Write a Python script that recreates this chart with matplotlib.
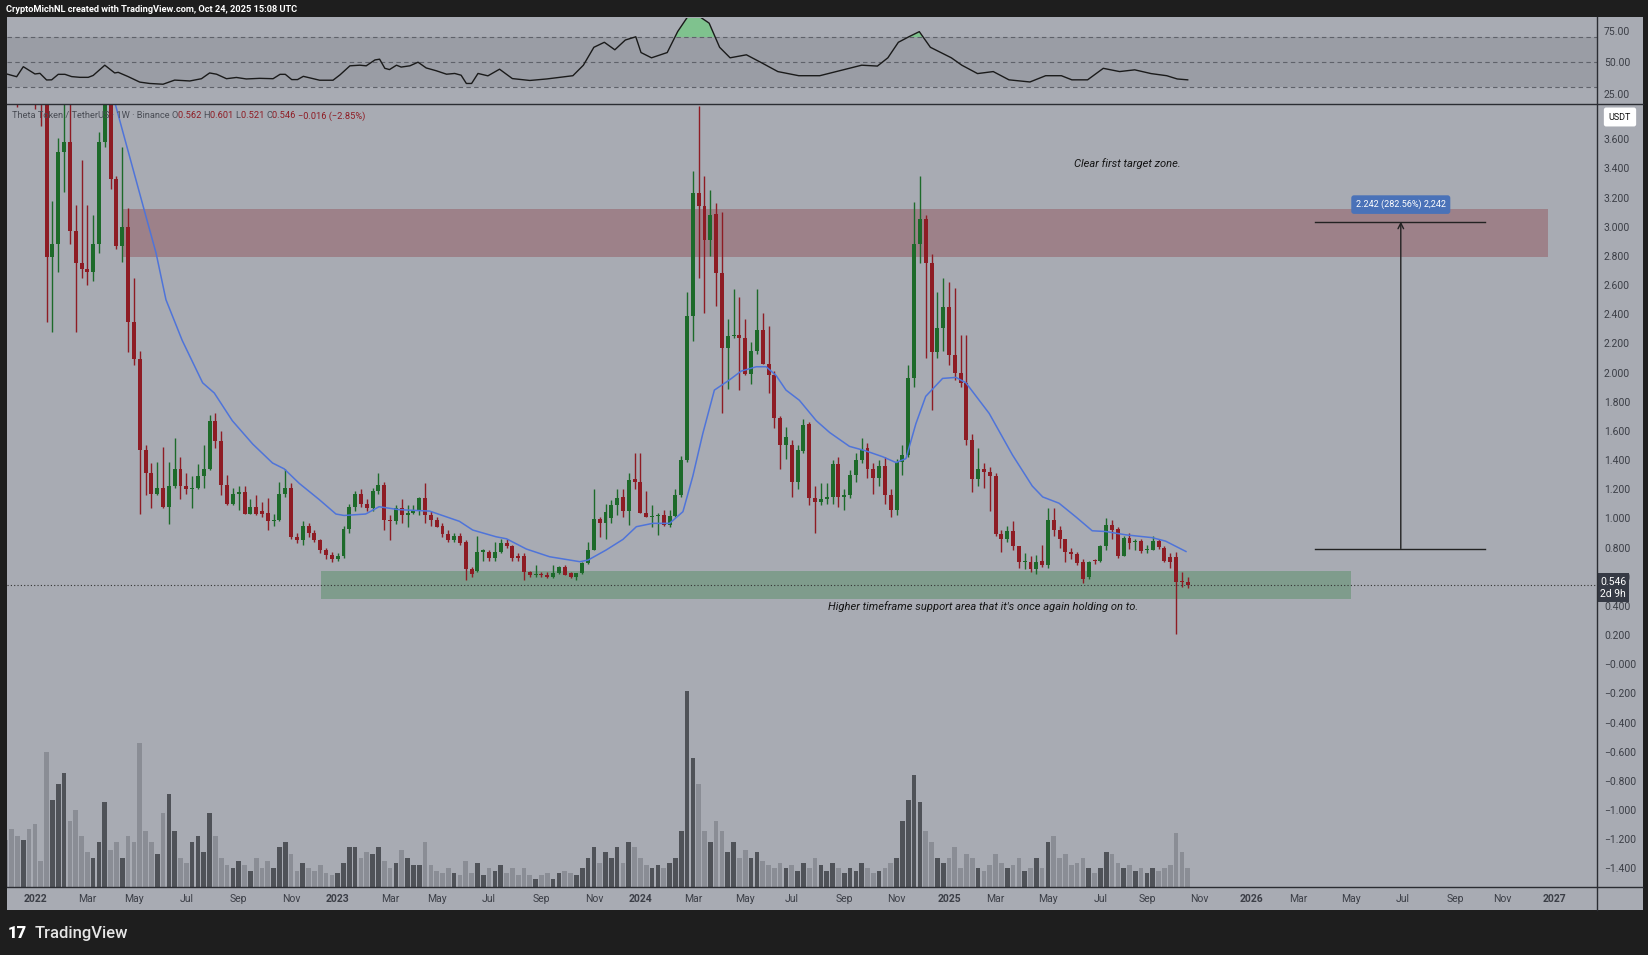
import numpy as np
import pandas as pd
import matplotlib
matplotlib.use("Agg")
import matplotlib.pyplot as plt
from matplotlib.patches import Rectangle
from matplotlib.lines import Line2D
import matplotlib.transforms as mtransforms

plt.rcParams['font.family'] = ['Roboto', 'DejaVu Sans']

# weekly THETA/USDT candles, index 0 = week of Mon 3 Jan 2022
first_week = -5
opens = [5.30, 4.80, 4.30, 4.10, 4.60, 4.30, 4.00, 3.95, 2.79, 2.88, 3.51, 3.58, 2.97, 2.75, 2.71, 2.69,
         2.88, 3.58, 4.05, 3.33, 2.87, 3.00, 2.35, 2.09, 1.47, 1.31, 1.17, 1.21, 1.08, 1.22, 1.34, 1.22,
         1.20, 1.21, 1.29, 1.34, 1.67, 1.53, 1.23, 1.10, 1.17, 1.18, 1.03, 1.08, 1.05, 1.04, 0.98, 0.99,
         1.17, 1.21, 0.87, 0.85, 0.95, 0.90, 0.85, 0.78, 0.75, 0.72, 0.74, 0.93, 1.075, 1.17, 1.10, 1.07,
         1.19, 1.23, 0.99, 0.98, 1.07, 1.02, 1.04, 1.05, 1.14, 1.02, 0.99, 0.95, 0.89, 0.85, 0.88, 0.84,
         0.65, 0.64, 0.77, 0.77, 0.73, 0.77, 0.83, 0.81, 0.74, 0.74, 0.63, 0.61, 0.612, 0.611, 0.60, 0.623,
         0.669, 0.623, 0.60, 0.623, 0.692, 0.783, 0.993, 0.97, 1.00, 1.09, 1.15, 1.05, 1.27, 1.25, 1.04, 1.01,
         1.013, 1.02, 0.954, 1.018, 1.16, 1.40, 2.39, 3.23, 3.14, 2.91, 3.09, 2.68, 2.17, 2.25, 2.26, 2.24,
         1.99, 2.15, 2.29, 2.06, 1.98, 1.69, 1.50, 1.50, 1.25, 1.46, 1.65, 1.14, 1.11, 1.13, 1.15, 1.37,
         1.15, 1.16, 1.30, 1.40, 1.48, 1.34, 1.28, 1.36, 1.16, 1.06, 1.39, 1.435, 1.96, 2.88, 3.05, 2.75,
         2.14, 2.305, 2.45, 2.12, 2.00, 1.93, 1.54, 1.27, 1.34, 1.32, 1.29, 0.896, 0.856, 0.915, 0.809, 0.70,
         0.703, 0.651, 0.707, 0.679, 0.991, 0.92, 0.856, 0.769, 0.755, 0.703, 0.596, 0.714, 0.707, 0.809,
         0.958, 0.927, 0.745, 0.868, 0.84, 0.844, 0.78, 0.785, 0.844, 0.797, 0.738, 0.738, 0.566, 0.562]
highs = [6.00, 5.10, 4.50, 4.90, 5.00, 4.40, 4.30, 4.10, 3.18, 3.61, 3.95, 3.90, 3.15, 3.46, 3.15, 3.08,
         3.65, 4.20, 4.30, 3.35, 3.55, 3.13, 2.65, 2.15, 1.50, 1.38, 1.39, 1.49, 1.39, 1.55, 1.42, 1.31,
         1.29, 1.37, 1.50, 1.71, 1.72, 1.60, 1.30, 1.21, 1.22, 1.22, 1.13, 1.16, 1.11, 1.14, 1.03, 1.25,
         1.34, 1.24, 0.90, 0.98, 0.97, 0.92, 0.86, 0.80, 0.77, 0.76, 0.95, 1.10, 1.19, 1.20, 1.13, 1.21,
         1.31, 1.25, 1.02, 1.09, 1.13, 1.09, 1.09, 1.15, 1.24, 1.05, 1.01, 0.97, 0.92, 0.90, 0.90, 0.85,
         0.67, 0.88, 0.79, 0.78, 0.84, 0.86, 0.86, 0.82, 0.76, 0.76, 0.64, 0.68, 0.634, 0.634, 0.68, 0.673,
         0.68, 0.634, 0.627, 0.703, 0.84, 1.20, 1.012, 1.10, 1.126, 1.20, 1.20, 1.31, 1.45, 1.45, 1.19, 1.09,
         1.035, 1.056, 1.056, 1.20, 1.43, 2.55, 3.38, 3.83, 3.35, 3.25, 3.16, 3.10, 2.37, 2.57, 2.52, 2.37,
         2.21, 2.57, 2.41, 2.32, 2.01, 1.70, 1.63, 1.54, 1.50, 1.68, 1.66, 1.22, 1.24, 1.24, 1.40, 1.42,
         1.20, 1.33, 1.45, 1.55, 1.52, 1.38, 1.40, 1.42, 1.20, 1.41, 1.50, 2.05, 3.17, 3.35, 3.08, 2.81,
         2.55, 2.65, 2.62, 2.58, 2.26, 2.26, 1.58, 1.48, 1.38, 1.35, 1.31, 0.92, 0.95, 0.98, 0.81, 0.76,
         0.74, 0.75, 0.82, 1.07, 1.07, 0.95, 0.86, 0.80, 0.77, 0.72, 0.71, 0.72, 0.82, 1.00,
         0.99, 0.94, 0.88, 0.90, 0.86, 0.86, 0.82, 0.88, 0.86, 0.81, 0.76, 0.77, 0.63, 0.601]
lows = [4.40, 3.90, 3.82, 4.00, 4.10, 3.81, 3.69, 2.35, 2.28, 2.69, 3.24, 2.88, 2.28, 2.65, 2.60, 2.63,
        2.82, 3.55, 3.26, 2.85, 2.76, 2.14, 2.05, 1.03, 1.16, 1.07, 1.16, 1.07, 0.96, 1.21, 1.13, 1.17,
        1.07, 1.20, 1.21, 1.33, 1.48, 1.16, 1.09, 1.09, 1.06, 1.03, 1.03, 1.02, 1.01, 0.92, 0.95, 0.98,
        1.15, 0.86, 0.83, 0.82, 0.87, 0.84, 0.76, 0.72, 0.70, 0.71, 0.73, 0.90, 1.05, 1.08, 1.05, 1.05,
        1.17, 0.92, 0.85, 0.96, 0.97, 0.94, 1.03, 1.02, 0.97, 0.95, 0.94, 0.87, 0.84, 0.84, 0.82, 0.577,
        0.60, 0.63, 0.71, 0.71, 0.71, 0.76, 0.80, 0.71, 0.71, 0.577, 0.60, 0.595, 0.595, 0.589, 0.593, 0.618,
        0.611, 0.589, 0.577, 0.618, 0.69, 0.78, 0.87, 0.86, 0.97, 1.02, 1.01, 0.954, 1.20, 1.04, 1.01, 0.943,
        0.886, 0.947, 0.943, 1.012, 1.149, 1.39, 2.22, 2.65, 2.41, 2.80, 2.46, 1.72, 1.89, 2.24, 1.88, 1.98,
        1.92, 2.13, 2.06, 1.86, 1.62, 1.34, 1.41, 1.15, 1.20, 1.45, 1.09, 0.90, 1.09, 1.10, 1.10, 1.08,
        1.06, 1.14, 1.25, 1.38, 1.28, 1.17, 1.22, 1.10, 1.01, 1.02, 1.30, 1.42, 1.90, 2.75, 2.10, 1.74,
        2.10, 2.15, 2.05, 1.95, 1.90, 1.50, 1.18, 1.22, 1.21, 1.05, 0.88, 0.77, 0.84, 0.78, 0.66, 0.65,
        0.63, 0.62, 0.67, 0.66, 0.88, 0.80, 0.70, 0.72, 0.68, 0.555, 0.585, 0.69, 0.70, 0.78,
        0.86, 0.73, 0.74, 0.79, 0.78, 0.76, 0.76, 0.78, 0.79, 0.70, 0.66, 0.21, 0.53, 0.521]
closes = [4.80, 4.30, 4.10, 4.60, 4.30, 4.00, 3.95, 2.79, 2.88, 3.51, 3.58, 2.97, 2.75, 2.71, 2.69, 2.88,
          3.58, 4.05, 3.33, 2.87, 3.00, 2.35, 2.09, 1.47, 1.31, 1.17, 1.21, 1.08, 1.22, 1.34, 1.22, 1.20,
          1.21, 1.29, 1.34, 1.67, 1.53, 1.23, 1.10, 1.17, 1.18, 1.03, 1.08, 1.03, 1.03, 0.98, 0.99, 1.17,
          1.21, 0.87, 0.85, 0.95, 0.90, 0.85, 0.78, 0.75, 0.72, 0.74, 0.93, 1.075, 1.17, 1.10, 1.07, 1.19,
          1.23, 0.99, 0.98, 1.07, 1.02, 1.04, 1.06, 1.14, 1.02, 0.99, 0.94, 0.89, 0.85, 0.88, 0.83, 0.65,
          0.62, 0.77, 0.78, 0.73, 0.77, 0.83, 0.81, 0.73, 0.73, 0.63, 0.61, 0.615, 0.611, 0.60, 0.623, 0.669,
          0.611, 0.60, 0.623, 0.692, 0.783, 0.993, 0.97, 1.047, 1.09, 1.14, 1.05, 1.26, 1.25, 1.04, 1.01, 1.013,
          1.02, 0.954, 1.018, 1.16, 1.40, 2.39, 3.23, 3.14, 2.91, 3.08, 2.68, 2.17, 2.25, 2.25, 2.24, 1.99,
          2.15, 2.29, 2.06, 1.98, 1.69, 1.50, 1.56, 1.25, 1.47, 1.64, 1.14, 1.11, 1.13, 1.15, 1.37, 1.15,
          1.16, 1.30, 1.40, 1.47, 1.34, 1.28, 1.36, 1.16, 1.06, 1.39, 1.435, 1.96, 2.88, 3.05, 2.75, 2.14,
          2.305, 2.45, 2.12, 2.00, 1.93, 1.54, 1.27, 1.34, 1.32, 1.29, 0.896, 0.856, 0.915, 0.809, 0.698, 0.703,
          0.651, 0.703, 0.679, 0.991, 0.92, 0.856, 0.769, 0.755, 0.691, 0.585, 0.703, 0.707, 0.809, 0.958,
          0.92, 0.745, 0.868, 0.833, 0.844, 0.773, 0.792, 0.844, 0.802, 0.707, 0.703, 0.566, 0.562, 0.546]
volumes = [45, 55, 48, 45, 55, 60, 25, 128, 83, 98, 108, 63, 73, 48, 33, 28,
           43, 81, 35, 43, 28, 48, 43, 137, 53, 43, 31, 70, 88, 53, 28, 23,
           43, 48, 33, 70, 48, 28, 21, 18, 25, 21, 15, 28, 18, 25, 18, 38,
           43, 31, 15, 23, 18, 15, 21, 13, 11, 13, 23, 38, 38, 28, 33, 31,
           38, 25, 18, 23, 35, 28, 21, 21, 43, 21, 15, 13, 18, 13, 11, 25,
           13, 23, 11, 18, 15, 21, 13, 18, 11, 18, 11, 8, 11, 13, 8, 13,
           15, 13, 11, 18, 28, 38, 23, 33, 28, 38, 23, 43, 38, 28, 21, 18,
           21, 18, 23, 28, 53, 186, 123, 98, 53, 43, 63, 53, 33, 43, 28, 35,
           28, 33, 25, 21, 18, 23, 18, 21, 15, 23, 18, 28, 21, 15, 23, 18,
           13, 18, 15, 23, 18, 13, 15, 18, 23, 28, 63, 83, 106, 81, 53, 43,
           28, 23, 28, 38, 18, 31, 28, 18, 15, 21, 31, 23, 18, 21, 28, 15,
           18, 28, 18, 43, 48, 28, 31, 21, 23, 28, 18, 13, 18, 33,
           31, 23, 18, 21, 15, 18, 13, 18, 15, 18, 21, 51, 33, 18]

# blue moving average (week, price)
ma_weeks = [13.6, 18.8, 20.8, 22.5, 25.3, 28.8, 30.8, 33.9, 37.4, 40.8, 42.8, 45.4, 48.8, 51.7, 53.1,
            56.8, 59.1, 62.5, 67.8, 72.9, 75.2, 79.2, 81.0, 84.4, 88.4, 93.6, 95.0, 98.1, 101.0, 103.3,
            106.1, 109.0, 111.3, 113.0, 114.7, 116.7, 119.3, 121.3, 123.9, 125.6, 127.3, 129.0, 131.3,
            134.2, 136.5, 139.9, 142.7, 145.6, 147.9, 149.6, 151.3, 153.0, 155.9, 158.2, 159.9, 163.9,
            167.9, 171.3, 173.1, 175.9, 178.8, 181.6, 183.9, 187.4, 191.9, 194.2, 197.7]
ma_vals = [3.87, 3.11, 2.82, 2.50, 2.22, 1.93, 1.86, 1.67, 1.51, 1.38, 1.34, 1.24, 1.13, 1.03, 1.02,
           1.03, 1.08, 1.06, 1.05, 0.98, 0.92, 0.874, 0.86, 0.79, 0.737, 0.703, 0.714, 0.783, 0.856, 0.943,
           0.966, 0.966, 1.046, 1.29, 1.58, 1.88, 1.95, 2.01, 2.04, 2.04, 1.98, 1.88, 1.81,
           1.67, 1.589, 1.494, 1.463, 1.423, 1.383, 1.41, 1.648, 1.837, 1.96, 1.967, 1.93, 1.72,
           1.435, 1.222, 1.147, 1.104, 1.01, 0.915, 0.91, 0.887, 0.868, 0.844, 0.773]

# RSI pane (week, value)
rsi_weeks = [-4.86, -3.14, -2.0, 0.0, 0.86, 2.0, 2.87, 4.0, 5.15, 6.3, 7.72, 9.15, 10.0, 12.0, 13.7,
             14.3, 16.0, 18.0, 19.7, 22.0, 24.0, 26.6, 28.6, 30.0, 31.2, 32.9, 34.6, 36.3, 38.6, 40.9,
             42.1, 43.0, 44.1, 45.1, 46.1, 48.9, 51.2, 52.4, 54.1, 55.8, 56.9, 58.4, 59.2, 60.1, 60.9,
             62.1, 62.9, 64.4, 65.8, 67.2, 68.9, 70.7, 72.1, 73.2, 74.1, 75.0, 76.1, 77.8, 79.8, 82.0,
             85.0, 87.9, 92.4, 94.2, 96.0, 97.8, 99.6, 101.4, 103.2, 104.1, 105.9, 108.6, 110.4, 112.2,
             114.0, 115.8, 117.6, 119.4, 122.2, 124.9, 127.6, 131.2, 134.8, 138.4, 142.0, 144.7, 146.5,
             148.3, 150.1, 151.9, 153.8, 155.6, 157.4, 159.2, 161.9, 164.6, 167.3, 170.9, 173.6, 176.3,
             178.1, 180.8, 183.5, 186.3, 188.9, 191.7, 194.4, 196.2, 198.0]
rsi_vals = [40.7, 38.5, 46.5, 40.7, 41.2, 35.9, 36.0, 40.4, 40.4, 38.6, 38.0, 38.0, 39.5, 47.7, 41.5,
            42.0, 38.6, 34.2, 33.1, 32.5, 35.8, 35.1, 36.9, 41.5, 40.5, 36.9, 37.9, 36.7, 37.2, 36.9,
            40.4, 40.4, 36.2, 36.2, 38.8, 35.7, 35.7, 40.0, 47.2, 47.7, 47.2, 51.9, 52.5, 45.2, 44.2,
            47.7, 46.2, 47.2, 50.1, 45.5, 43.3, 40.5, 41.1, 39.7, 33.1, 33.1, 41.1, 39.2, 44.5, 37.0,
            35.5, 36.7, 39.3, 47.7, 62.0, 66.0, 60.0, 67.8, 70.4, 57.8, 53.6, 57.8, 74.6, 87.0,
            87.0, 81.3, 62.0, 53.6, 56.0, 49.4, 42.6, 39.3, 39.3, 43.5, 47.7, 47.0, 53.6,
            66.0, 70.4, 74.5, 62.0, 57.8, 53.6, 47.7, 41.0, 42.6, 36.0, 34.3, 39.3, 39.3,
            36.0, 36.0, 45.2, 42.6, 44.0, 41.0, 39.3, 36.7, 36.0]

price_ticks = [3.6, 3.4, 3.2, 3.0, 2.8, 2.6, 2.4, 2.2, 2.0, 1.8, 1.6, 1.4, 1.2, 1.0, 0.8, 0.6, 0.4,
               0.2, 0.0, -0.2, -0.4, -0.6, -0.8, -1.0, -1.2, -1.4]
month_labels = [(2022, 1, '2022'), (2022, 3, 'Mar'), (2022, 5, 'May'), (2022, 7, 'Jul'), (2022, 9, 'Sep'),
                (2022, 11, 'Nov'), (2023, 1, '2023'), (2023, 3, 'Mar'), (2023, 5, 'May'), (2023, 7, 'Jul'),
                (2023, 9, 'Sep'), (2023, 11, 'Nov'), (2024, 1, '2024'), (2024, 3, 'Mar'), (2024, 5, 'May'),
                (2024, 7, 'Jul'), (2024, 9, 'Sep'), (2024, 11, 'Nov'), (2025, 1, '2025'), (2025, 3, 'Mar'),
                (2025, 5, 'May'), (2025, 7, 'Jul'), (2025, 9, 'Sep'), (2025, 11, 'Nov'), (2026, 1, '2026'),
                (2026, 3, 'Mar'), (2026, 5, 'May'), (2026, 7, 'Jul'), (2026, 9, 'Sep'), (2026, 11, 'Nov'),
                (2027, 1, '2027')]

# zones and the measure drawing
target_zone = (2.795, 3.12)
support_zone = (0.445, 0.64)
measure_low, measure_high = 0.7935, 3.0355
measure_label = '2.242 (282.56%) 2,242'

W, H = 1649, 955
BG = '#a8abb3'
GREEN = '#1d6a2a'
RED = '#8e1c24'
TXT = '#3b3e46'


def fig_rect(x0, y0, x1, y1):
    return [x0 / W, 1 - y1 / H, (x1 - x0) / W, (y1 - y0) / H]


fig = plt.figure(figsize=(W / 100, H / 100), dpi=100, facecolor='#1e1e1e')
fig.add_artist(Rectangle((7 / W, 1 - 910 / H), (1643 - 7) / W, (910 - 17) / H,
                         transform=fig.transFigure, fc=BG, ec='none', zorder=-1))

ar = fig.add_axes(fig_rect(7, 18, 1597, 104))
ax = fig.add_axes(fig_rect(7, 104, 1597, 887))
x_lo, x_hi = -4.8, 268.3
y_lo, y_hi = -1.528, 3.842

weeks = np.arange(first_week, first_week + len(opens))
o = np.array(opens)
h = np.array(highs)
l = np.array(lows)
c = np.array(closes)
up = c >= o
cols = np.where(up, GREEN, RED)

# ---- main pane ----
ax.set_facecolor(BG)
ax.set_xlim(x_lo, x_hi)
ax.set_ylim(y_lo, y_hi)
for s in ax.spines.values():
    s.set_visible(False)

ax.add_patch(Rectangle((15.2, target_zone[0]), 259.9 - 15.2, target_zone[1] - target_zone[0],
                       fc='#9d8189', ec='none', zorder=1))
ax.add_patch(Rectangle((49.1, support_zone[0]), 226.0 - 49.1, support_zone[1] - support_zone[0],
                       fc='#7f9c8c', ec='none', zorder=1))

# volume bars scaled into the bottom of the pane
vol_k = (y_hi - y_lo) / 744.0
vcols = np.where(up, '#4f5258', '#8a8d95')
ax.bar(weeks, np.array(volumes) * vol_k, bottom=y_lo, width=0.8, color=vcols, zorder=2)

ax.vlines(weeks, l, h, colors=cols, lw=1, zorder=3)
body_lo = np.minimum(o, c)
body_h = np.maximum(np.abs(c - o), 0.006)
ax.bar(weeks, body_h, bottom=body_lo, width=0.68, color=cols, zorder=4)

ax.plot(ma_weeks, ma_vals, color='#4f74d9', lw=1.1, zorder=5)
ax.axhline(closes[-1], color='#333333', lw=0.8, ls=(0, (1, 2)), zorder=5)

# measure tool
ax.plot([219.9, 249.0], [measure_high, measure_high], color='#222222', lw=1, zorder=6)
ax.plot([219.9, 249.0], [measure_low, measure_low], color='#222222', lw=1, zorder=6)
ax.annotate('', xy=(234.6, measure_high), xytext=(234.6, measure_low),
            arrowprops=dict(arrowstyle='->', color='#222222', lw=1, shrinkA=0, shrinkB=0), zorder=6)
ax.text(234.6, 3.152, measure_label, ha='center', va='center', color='white', fontsize=6.5, zorder=7,
        bbox=dict(boxstyle='round,pad=0.5,rounding_size=0.3', fc='#4a72b8', ec='none'))

ax.text(187.6, 3.437, 'Clear first target zone.', ha='center', va='center', fontsize=8,
        style='italic', color='#151515', zorder=7)
ax.text(162.9, 0.394, "Higher timeframe support area that it's once again holding on to.",
        ha='center', va='center', fontsize=8, style='italic', color='#151515', zorder=7)

# legend line
parts = [('Theta Token / TetherUS · 1W · Binance ', '#4a4d55'),
         ('O', '#4a4d55'), (f'{opens[-1]:.3f} ', '#8e1c24'),
         ('H', '#4a4d55'), (f'{highs[-1]:.3f} ', '#8e1c24'),
         ('L', '#4a4d55'), (f'{lows[-1]:.3f} ', '#8e1c24'),
         ('C', '#4a4d55'), (f'{closes[-1]:.3f} ', '#8e1c24'),
         ('\u22120.016 (\u22122.85%)', '#8e1c24')]
fig.canvas.draw()
renderer = fig.canvas.get_renderer()
xpos = 12
for txt, col in parts:
    tt = fig.text(xpos / W, 1 - 116 / H, txt, color=col, fontsize=6.7, va='center', ha='left')
    xpos += tt.get_window_extent(renderer=renderer).width

# price scale
ax.yaxis.tick_right()
ax.set_yticks(price_ticks)
ax.set_yticklabels([f'{v:.3f}'.replace('-', '\u2212') if v != 0 else '\u22120.000' for v in price_ticks])
ax.tick_params(axis='y', length=0, pad=5, labelsize=7.5, labelcolor=TXT)

tick_pos = []
for yr, mo, lab in month_labels:
    d = pd.Timestamp(yr, mo, 1)
    d = d + pd.Timedelta(days=(7 - d.weekday()) % 7)
    tick_pos.append((d - pd.Timestamp(2022, 1, 3)).days / 7)
ax.set_xticks(tick_pos)
ax.set_xticklabels([m[2] for m in month_labels])
ax.tick_params(axis='x', length=0, pad=5, labelsize=7.5, labelcolor=TXT)
for lab in ax.get_xticklabels():
    if lab.get_text().isdigit():
        lab.set_fontweight('bold')

# current price and currency boxes
blend = mtransforms.blended_transform_factory(ax.transAxes, ax.transData)
ax.text(1.002, closes[-1] - 0.02, f'{closes[-1]:.3f}\n2d 9h', transform=blend, ha='left', va='center',
        color='white', fontsize=7.5, linespacing=1.25, zorder=10, clip_on=False,
        bbox=dict(boxstyle='square,pad=0.3', fc='#363a45', ec='none'))
fig.text(1620 / W, 1 - 117 / H, 'USDT', ha='center', va='center', fontsize=6.5, color='#111111',
         bbox=dict(boxstyle='round,pad=0.55,rounding_size=0.25', fc='white', ec='none'))

# ---- RSI pane ----
ar.set_facecolor(BG)
ar.set_xlim(x_lo, x_hi)
ar.set_ylim(16.7, 85.4)
for s in ar.spines.values():
    s.set_visible(False)
ar.axhspan(30, 70, color='#9a9da5', lw=0)
for lv in (70, 50, 30):
    ar.axhline(lv, color='#5f626a', lw=0.8, ls=(0, (4, 3)))
rw = np.array(rsi_weeks)
rv = np.array(rsi_vals)
ar.fill_between(rw, rv, 70, where=rv > 70, interpolate=True, color='#7fc28e', lw=0)
ar.plot(rw, rv, color='#1a1a1a', lw=1)
ar.set_xticks([])
ar.yaxis.tick_right()
ar.set_yticks([75, 50, 25])
ar.set_yticklabels(['75.00', '50.00', '25.00'])
ar.tick_params(axis='y', length=0, pad=5, labelsize=7.5, labelcolor=TXT)

# separators
for (x0, y0, x1, y1) in [(7, 104, 1643, 104), (7, 887, 1643, 887), (1597, 17, 1597, 910)]:
    fig.add_artist(Line2D([x0 / W, x1 / W], [1 - y0 / H, 1 - y1 / H], transform=fig.transFigure,
                          color='#2b2d33', lw=1))

fig.text(6 / W, 1 - 9 / H, 'CryptoMichNL created with TradingView.com, Oct 24, 2025 15:08 UTC',
         color='white', fontsize=6.7, fontweight='bold', va='center')
fig.text(8 / W, 1 - 933 / H, '17', color='white', fontsize=12, fontweight='heavy', va='center')
fig.text(35 / W, 1 - 933 / H, 'TradingView', color='#e6e6e6', fontsize=12, fontweight='medium',
         va='center')

fig.savefig('out.png', dpi=100, facecolor=fig.get_facecolor())
